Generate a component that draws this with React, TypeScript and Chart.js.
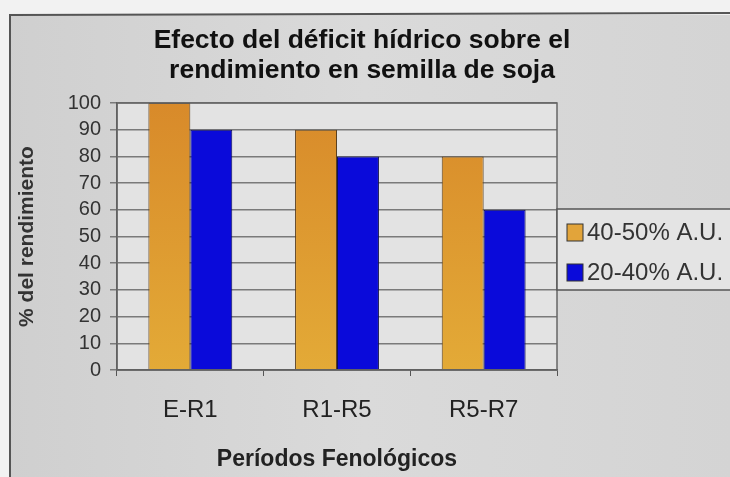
import React, { useEffect, useRef } from "react";
import { Chart, registerables } from "chart.js";

Chart.register(...registerables);

const titleLines = ["Efecto del déficit hídrico sobre el", "rendimiento en semilla de soja"];
const categories = ["E-R1", "R1-R5", "R5-R7"];
const seriesNames = ["40-50% A.U.", "20-40% A.U."];
const seriesHigh = [100, 90, 80];
const seriesLow = [90, 80, 60];
const yAxisTitle = "% del rendimiento";
const xAxisTitle = "Períodos Fenológicos";
const yMin = 0;
const yMax = 100;
const yStep = 10;

const FONT = "'Liberation Sans', Arial, sans-serif";
const ORANGE = "#DE9C31";
const BLUE = "#0A0ADA";

const backgroundPlugin = {
  id: "photoBackground",
  beforeDraw(chart: any) {
    const { ctx, width, height, chartArea } = chart;
    ctx.save();
    ctx.fillStyle = "#f2f2f2";
    ctx.fillRect(0, 0, width, height);
    const g = ctx.createLinearGradient(0, 0, width, 0);
    g.addColorStop(0, "#cfcfcf");
    g.addColorStop(0.5, "#dadada");
    g.addColorStop(1, "#d4d4d4");
    ctx.fillStyle = g;
    ctx.fillRect(10, 15, width - 10, height - 15);
    ctx.strokeStyle = "#555";
    ctx.lineWidth = 2;
    ctx.beginPath();
    ctx.moveTo(10, height);
    ctx.lineTo(10, 15);
    ctx.lineTo(width, 13);
    ctx.stroke();
    ctx.fillStyle = "#e3e3e3";
    ctx.fillRect(chartArea.left, chartArea.top, chartArea.right - chartArea.left, chartArea.bottom - chartArea.top);
    ctx.restore();
  },
  afterDraw(chart: any) {
    const { ctx, chartArea } = chart;
    ctx.save();
    // title
    ctx.fillStyle = "#111";
    ctx.font = `bold 26.5px ${FONT}`;
    ctx.textAlign = "center";
    ctx.textBaseline = "middle";
    titleLines.forEach((line, i) => ctx.fillText(line, 362, 41 + i * 30));
    ctx.textAlign = "left";
    // plot border
    ctx.strokeStyle = "#666";
    ctx.lineWidth = 1.5;
    ctx.strokeRect(chartArea.left, chartArea.top, chartArea.right - chartArea.left, chartArea.bottom - chartArea.top);
    // legend box
    const lx = chartArea.right;
    const ly = 209;
    const lw = 200;
    const lh = 81;
    ctx.fillStyle = "#e4e4e4";
    ctx.fillRect(lx, ly, lw, lh);
    ctx.strokeStyle = "#555";
    ctx.lineWidth = 1.5;
    ctx.strokeRect(lx, ly, lw, lh);
    ctx.font = `24px ${FONT}`;
    ctx.textBaseline = "middle";
    chart.data.datasets.forEach((ds: any, i: number) => {
      const cy = ly + 23 + i * 40;
      ctx.fillStyle = ds.legendColor;
      ctx.fillRect(lx + 10, cy - 8, 16, 17);
      ctx.strokeStyle = "#333";
      ctx.lineWidth = 1;
      ctx.strokeRect(lx + 10, cy - 8, 16, 17);
      ctx.fillStyle = "#333";
      ctx.fillText(ds.label, lx + 30, cy + 1);
    });
    ctx.restore();
  },
};

function orangeFill(context: any) {
  const chart = context.chart;
  const area = chart.chartArea;
  if (!area) return ORANGE;
  const g = chart.ctx.createLinearGradient(0, area.top, 0, area.bottom);
  g.addColorStop(0, "#D88A2A");
  g.addColorStop(1, "#E3AA37");
  return g;
}

export default function App() {
  const ref = useRef<HTMLCanvasElement | null>(null);
  useEffect(() => {
    if (!ref.current) return;
    const chart = new Chart(ref.current, {
      type: "bar",
      data: {
        labels: categories,
        datasets: [
          {
            label: seriesNames[0],
            data: seriesHigh,
            backgroundColor: orangeFill,
            borderColor: "#5a4020",
            borderWidth: 1,
            legendColor: "#E2A43A",
          } as any,
          {
            label: seriesNames[1],
            data: seriesLow,
            backgroundColor: BLUE,
            borderColor: "#101050",
            borderWidth: 1,
            legendColor: BLUE,
          } as any,
        ],
      },
      options: {
        responsive: false,
        animation: false,
        devicePixelRatio: 1,
        layout: { padding: { left: 10, right: 173, top: 103, bottom: 4 } },
        datasets: { bar: { categoryPercentage: 0.572, barPercentage: 1 } },
        plugins: {
          legend: { display: false },
          tooltip: { enabled: false },
          title: { display: false },
        },
        scales: {
          x: {
            afterFit: (s: any) => {
              s.height = 103;
            },
            grid: {
              display: true,
              drawOnChartArea: false,
              drawTicks: true,
              tickLength: 6,
              color: "#555",
              offset: true,
            },
            border: { display: true, color: "#555", width: 1.5 },
            ticks: {
              color: "#222",
              font: { family: FONT, size: 24 },
              padding: 20,
            },
            title: {
              display: true,
              text: xAxisTitle,
              color: "#222",
              font: { family: FONT, size: 23, weight: "bold" },
              padding: { top: 0, bottom: 0 },
            },
          },
          y: {
            min: yMin,
            max: yMax,
            afterFit: (s: any) => {
              s.width = 107;
            },
            grid: { color: "#7a7a7a", lineWidth: 1.5, tickLength: 7 },
            border: { display: true, color: "#555", width: 1.5 },
            ticks: {
              stepSize: yStep,
              autoSkip: false,
              color: "#333",
              font: { family: FONT, size: 20 },
              padding: 9,
            },
            title: {
              display: true,
              text: yAxisTitle,
              color: "#333",
              font: { family: FONT, size: 21, weight: "bold" },
              padding: { top: 5, bottom: 0 },
            },
          },
        },
      },
      plugins: [backgroundPlugin],
    });
    return () => chart.destroy();
  }, []);
  return (
    <div style={{ position: "fixed", left: 0, top: 0, width: 730, height: 477 }}>
      <canvas ref={ref} width={730} height={477} style={{ width: 730, height: 477, display: "block" }} />
    </div>
  );
}
